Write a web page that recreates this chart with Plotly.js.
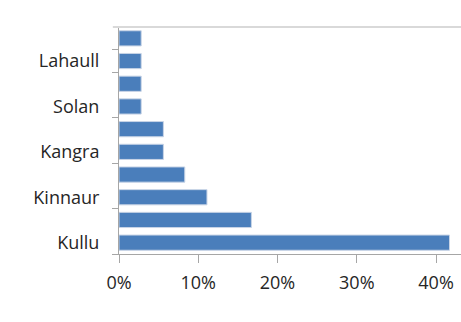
<!DOCTYPE html>
<html><head><meta charset="utf-8">
<script src="https://cdn.plot.ly/plotly-3.0.1.min.js"></script>
<style>html,body{margin:0;padding:0;background:#fff}#c{width:461px;height:322px}</style>
</head><body><div id="c"></div>
<script>
// bottom to top
const districts = ["Kullu","Shimla","Kinnaur","Chamba","Kangra","Mandi","Solan","Sirmaur","Lahaull","Bilaspur"];
const shares = [0.417,0.167,0.111,0.083,0.056,0.056,0.028,0.028,0.028,0.028];
const shownLabels = ["Kullu","Kinnaur","Kangra","Solan","Lahaull"];
const xTicks = [0,0.1,0.2,0.3,0.4];
const xTitle = "Cumulative landslide events (%)";

const fontFam = "'Open Sans', sans-serif";
Plotly.newPlot('c', [{
  type:'bar', orientation:'h', y:districts, x:shares,
  marker:{color:'#4a7ebb', line:{color:'#c8d4e6', width:1}},
  hoverinfo:'none'
}], {
  width:461, height:322,
  margin:{l:119, r:0, t:27, b:68},
  paper_bgcolor:'#fff', plot_bgcolor:'#fff',
  bargap:0.33,
  showlegend:false,
  font:{family:fontFam, size:18, color:'#262626'},
  xaxis:{range:[0,0.4315], tickvals:xTicks, tickformat:'.0%', showgrid:false, zeroline:false,
    showline:true, linecolor:'#a6a6a6', linewidth:1, ticks:'outside', ticklen:8, tickcolor:'#a6a6a6',
    ticklabelstandoff:4, fixedrange:true},
  yaxis:{type:'category', categoryorder:'array', categoryarray:districts, tickvals:shownLabels,
    tickson:'boundaries', ticks:'outside', ticklen:6, tickcolor:'#a6a6a6',
    showline:true, linecolor:'#a6a6a6', linewidth:1, showgrid:false, zeroline:false,
    ticklabelstandoff:15, fixedrange:true},
  shapes:[{type:'line', xref:'paper', yref:'paper', x0:-0.018, x1:1, y0:1, y1:1,
    line:{color:'#d9d9d9', width:2}}],
  annotations:[{xref:'paper', yref:'paper', x:0.553, y:-0.2775, xanchor:'center', yanchor:'top',
    text:'<b>'+xTitle+'</b>', showarrow:false, font:{size:15, color:'#262626'}}]
}, {staticPlot:true});
</script></body></html>
